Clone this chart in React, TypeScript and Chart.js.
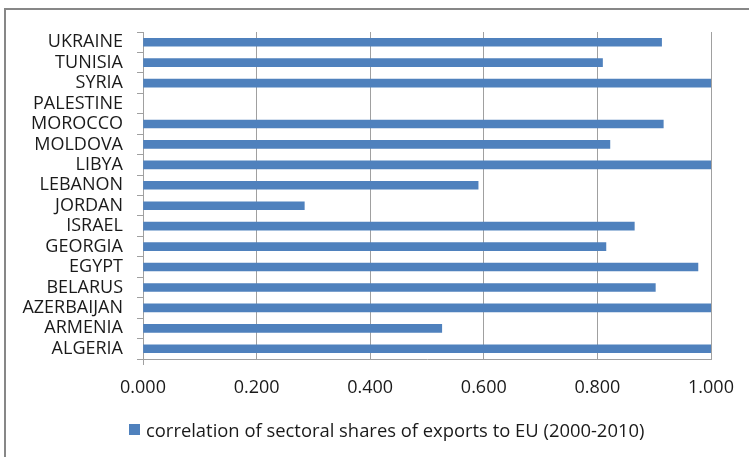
import React, { useEffect, useRef } from "react";
import { Chart, registerables } from "chart.js";

Chart.register(...registerables);

// Countries listed top to bottom as they appear on the axis
const countries = [
  "UKRAINE",
  "TUNISIA",
  "SYRIA",
  "PALESTINE",
  "MOROCCO",
  "MOLDOVA",
  "LIBYA",
  "LEBANON",
  "JORDAN",
  "ISRAEL",
  "GEORGIA",
  "EGYPT",
  "BELARUS",
  "AZERBAIJAN",
  "ARMENIA",
  "ALGERIA",
];

// Correlation values; PALESTINE has no value
const correlation: (number | null)[] = [
  0.913, 0.809, 1.0, null, 0.916, 0.822, 1.0, 0.59, 0.284, 0.865, 0.815, 0.977,
  0.902, 1.0, 0.526, 1.0,
];

const seriesLabel = "correlation of sectoral shares of exports to EU (2000-2010)";
const xTicks = [0, 0.2, 0.4, 0.6, 0.8, 1.0];

const FONT = "'Open Sans', 'Noto Sans', sans-serif";
const AXIS_GRAY = "#a0a0a0";
const TEXT = "#1a1a1a";
const BAR_BLUE = "#4f81bd";

export default function App() {
  const canvasRef = useRef<HTMLCanvasElement | null>(null);

  useEffect(() => {
    document.body.style.margin = "0";
    const canvas = canvasRef.current;
    if (!canvas) return;
    const chart = new Chart(canvas, {
      type: "bar",
      data: {
        labels: countries,
        datasets: [
          {
            label: seriesLabel,
            data: correlation,
            backgroundColor: BAR_BLUE,
            borderWidth: 0,
            barThickness: 8,
            categoryPercentage: 1,
          },
        ],
      },
      options: {
        indexAxis: "y",
        animation: false,
        responsive: false,
        maintainAspectRatio: false,
        layout: { padding: { top: 32, right: 38, left: 0, bottom: 43 } },
        scales: {
          x: {
            min: 0,
            max: 1,
            afterBuildTicks: (scale: any) => {
              scale.ticks = xTicks.map((v) => ({ value: v }));
            },
            afterFit: (scale: any) => {
              scale.height = 55;
            },
            ticks: {
              color: TEXT,
              font: { family: FONT, size: 18 },
              padding: 12,
              callback: (v: any) => Number(v).toFixed(3),
            },
            grid: {
              color: AXIS_GRAY,
              lineWidth: 1,
              tickLength: 6,
              tickColor: (ctx: any) => (ctx.index === 0 ? AXIS_GRAY : "transparent"),
            },
            border: { color: AXIS_GRAY },
          },
          y: {
            afterFit: (scale: any) => {
              scale.width = 143;
            },
            ticks: {
              color: TEXT,
              font: { family: FONT, size: 18 },
              padding: 14,
              autoSkip: false,
            },
            grid: {
              drawOnChartArea: false,
              color: AXIS_GRAY,
              tickLength: 6,
            },
            border: { color: AXIS_GRAY },
          },
        },
        plugins: {
          legend: { display: false },
          tooltip: { enabled: false },
        },
      },
    });
    return () => chart.destroy();
  }, []);

  return (
    <div style={{ position: "relative", width: 749, height: 457, background: "#fff", overflow: "hidden" }}>
      <div
        style={{
          position: "absolute",
          left: 4,
          top: 8,
          width: 800,
          height: 500,
          borderTop: "2px solid #878787",
          borderLeft: "2px solid #878787",
          boxSizing: "border-box",
        }}
      />
      <canvas ref={canvasRef} width={749} height={457} style={{ position: "absolute", left: 0, top: 0 }} />
      <div
        style={{
          position: "absolute",
          left: 129,
          top: 417,
          height: 24,
          display: "flex",
          alignItems: "center",
          fontFamily: FONT,
          fontSize: 18.4,
          color: TEXT,
          whiteSpace: "nowrap",
        }}
      >
        <span style={{ display: "inline-block", width: 11, height: 11, background: BAR_BLUE, marginRight: 6 }} />
        <span>{seriesLabel}</span>
      </div>
    </div>
  );
}
